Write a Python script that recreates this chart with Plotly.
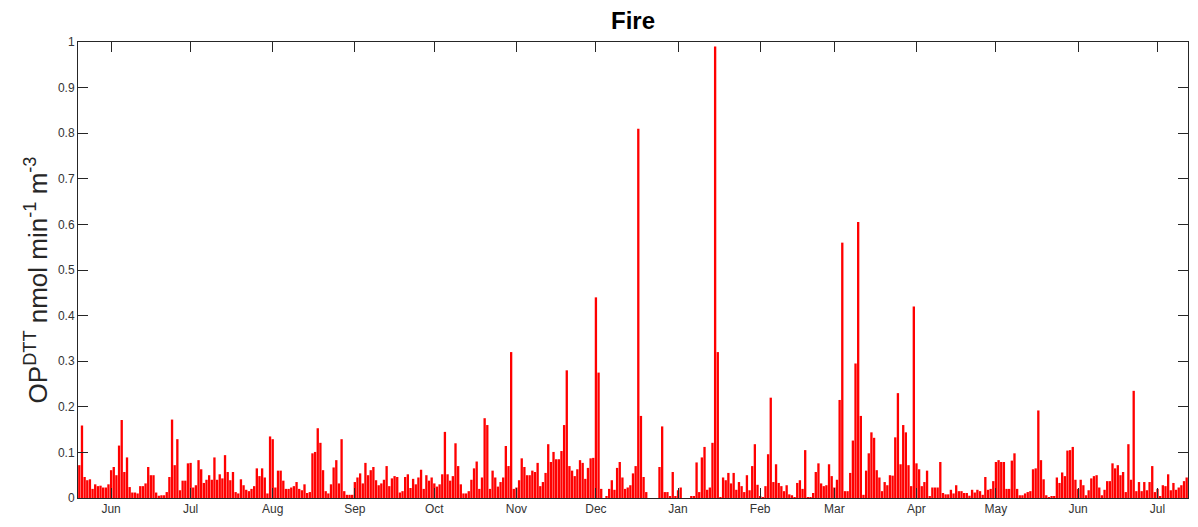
import pandas as pd
import plotly.graph_objects as go

start_date = "2017-05-20"
title_text = "Fire"
y_label = "OP<sup>DTT</sup> nmol min<sup>-1</sup> m<sup>-3</sup>"

# daily OP-DTT values (nmol min^-1 m^-3)
vals_jun = [0.072, 0.159, 0.046, 0.039, 0.041, 0.020, 0.030, 0.026, 0.027, 0.023,
            0.023, 0.030, 0.061, 0.068, 0.050, 0.115, 0.171, 0.057, 0.089, 0.024,
            0.012, 0.012, 0.010, 0.026, 0.026, 0.032, 0.068, 0.050, 0.050, 0.012,
            0.005, 0.006, 0.006, 0.013, 0.046, 0.172, 0.072]
vals_jul = [0.129, 0.017, 0.038, 0.038, 0.076, 0.077, 0.023, 0.028, 0.083, 0.063,
            0.033, 0.040, 0.050, 0.040, 0.089, 0.040, 0.052, 0.043, 0.094, 0.057,
            0.039, 0.057, 0.013, 0.010, 0.041, 0.028, 0.018, 0.015, 0.020, 0.026,
            0.065, 0.048, 0.065, 0.045, 0.010, 0.135, 0.129, 0.023, 0.060, 0.060,
            0.038]
vals_aug = [0.020, 0.020, 0.023, 0.026, 0.035, 0.020, 0.017, 0.030, 0.011, 0.013,
            0.098, 0.101, 0.153, 0.121, 0.061, 0.015, 0.010, 0.030, 0.067, 0.083,
            0.032, 0.129, 0.015, 0.007, 0.007, 0.007, 0.035, 0.045, 0.054, 0.032,
            0.077, 0.050, 0.061, 0.068, 0.039, 0.028, 0.032, 0.040, 0.070, 0.026]
vals_sep = [0.043, 0.048, 0.046, 0.012, 0.015, 0.046, 0.052, 0.022, 0.042, 0.030,
            0.045, 0.062, 0.020, 0.050, 0.038, 0.045, 0.032, 0.025, 0.030, 0.052,
            0.145, 0.052, 0.038, 0.048, 0.120, 0.070, 0.030, 0.010, 0.010, 0.015,
            0.040, 0.065, 0.080, 0.020, 0.045, 0.175, 0.160, 0.020, 0.060, 0.045,
            0.025]
vals_nov = [0.035, 0.045, 0.114, 0.070, 0.320, 0.020, 0.023, 0.039, 0.087, 0.068,
            0.050, 0.050, 0.060, 0.057, 0.077, 0.026, 0.035, 0.055, 0.118, 0.079,
            0.101, 0.085, 0.085, 0.103, 0.160, 0.280, 0.070, 0.060, 0.048, 0.063,
            0.083, 0.077, 0.042, 0.066, 0.087, 0.088, 0.440, 0.275, 0.020, 0.000,
            0.003, 0.020]
vals_dec = [0.039, 0.018, 0.066, 0.079, 0.045, 0.020, 0.023, 0.028, 0.054, 0.070,
            0.810, 0.180, 0.046, 0.013, 0.000, 0.000, 0.000, 0.000, 0.068, 0.157,
            0.013, 0.013, 0.004, 0.057, 0.003, 0.017, 0.023, 0.000, 0.000, 0.000,
            0.004, 0.004, 0.078, 0.013, 0.089, 0.112, 0.018, 0.023, 0.121, 0.990,
            0.320, 0.002]
vals_feb = [0.045, 0.039, 0.055, 0.032, 0.055, 0.018, 0.035, 0.026, 0.013, 0.050,
            0.017, 0.070, 0.118, 0.029, 0.004, 0.002, 0.026, 0.096, 0.220, 0.035,
            0.074, 0.033, 0.026, 0.015, 0.028, 0.008, 0.006, 0.002, 0.033, 0.039,
            0.020, 0.105, 0.002, 0.001, 0.011, 0.057, 0.076, 0.032, 0.026, 0.028,
            0.074, 0.048]
vals_mar = [0.023, 0.040, 0.215, 0.560, 0.015, 0.015, 0.055, 0.126, 0.295, 0.605,
            0.180, 0.007, 0.060, 0.098, 0.144, 0.132, 0.061, 0.045, 0.015, 0.035,
            0.028, 0.050, 0.049, 0.133, 0.230, 0.074, 0.160, 0.144, 0.072, 0.026,
            0.420, 0.076, 0.063, 0.026, 0.035, 0.060, 0.004, 0.023, 0.023, 0.023,
            0.079]
vals_apr = [0.011, 0.008, 0.008, 0.018, 0.010, 0.028, 0.015, 0.015, 0.011, 0.011,
            0.005, 0.018, 0.012, 0.018, 0.015, 0.007, 0.046, 0.018, 0.020, 0.037,
            0.079, 0.083, 0.079, 0.079, 0.020, 0.020, 0.082, 0.098, 0.020, 0.006,
            0.006, 0.010, 0.013, 0.015, 0.063, 0.065, 0.192, 0.083, 0.041, 0.006,
            0.002]
vals_jun2 = [0.004, 0.004, 0.045, 0.033, 0.056, 0.048, 0.104, 0.105, 0.112, 0.040,
             0.020, 0.040, 0.028, 0.006, 0.017, 0.043, 0.048, 0.050, 0.023, 0.006,
             0.018, 0.037, 0.037, 0.076, 0.065, 0.072, 0.050, 0.057, 0.013, 0.118,
             0.040, 0.235, 0.015, 0.035, 0.015, 0.035, 0.017, 0.035, 0.070, 0.013,
             0.020, 0.004, 0.028, 0.026, 0.052, 0.017, 0.033, 0.018, 0.023, 0.028,
             0.037, 0.045]

values = (vals_jun + vals_jul + vals_aug + vals_sep + vals_nov + vals_dec
          + vals_feb + vals_mar + vals_apr + vals_jun2)
dates = pd.date_range(start_date, periods=len(values), freq="D")

axis_col = "#262626"
font_fam = "Liberation Sans, Arial, Helvetica, sans-serif"

fig = go.Figure(go.Bar(x=dates, y=values, marker=dict(color="#ff0000", line=dict(width=0))))

fig.update_layout(
    width=1198, height=527,
    margin=dict(l=70, r=18, t=34, b=37, autoexpand=False),
    paper_bgcolor="white", plot_bgcolor="white",
    bargap=0.12,
    showlegend=False,
    font=dict(family=font_fam, color=axis_col, size=12),
    title=dict(text="<b>" + title_text + "</b>", x=0.5217, xanchor="center",
               y=0.977, yanchor="middle", font=dict(size=24, color="black", family=font_fam)),
    annotations=[dict(text=y_label, textangle=-90, xref="paper", yref="paper",
                      x=-0.0375, y=0.478, xanchor="center", yanchor="middle",
                      showarrow=False, font=dict(size=26, color="#262626", family=font_fam))],
)
fig.update_xaxes(
    type="date",
    range=["2017-05-19 12:00", "2018-07-12 12:00"],
    tick0="2017-06-01", dtick="M1", tickformat="%b",
    ticks="inside", ticklen=10, tickcolor=axis_col, tickwidth=1,
    showline=True, linecolor=axis_col, linewidth=1, mirror="allticks",
    showgrid=False, zeroline=False,
    tickfont=dict(size=12, color="#333333"),
)
fig.update_yaxes(
    range=[0, 1], dtick=0.1, tick0=0,
    ticks="inside", ticklen=10, tickcolor=axis_col, tickwidth=1,
    showline=True, linecolor=axis_col, linewidth=1, mirror="allticks",
    showgrid=False, zeroline=False,
    tickfont=dict(size=12, color="#333333"),
)

fig.write_html("out.html")
